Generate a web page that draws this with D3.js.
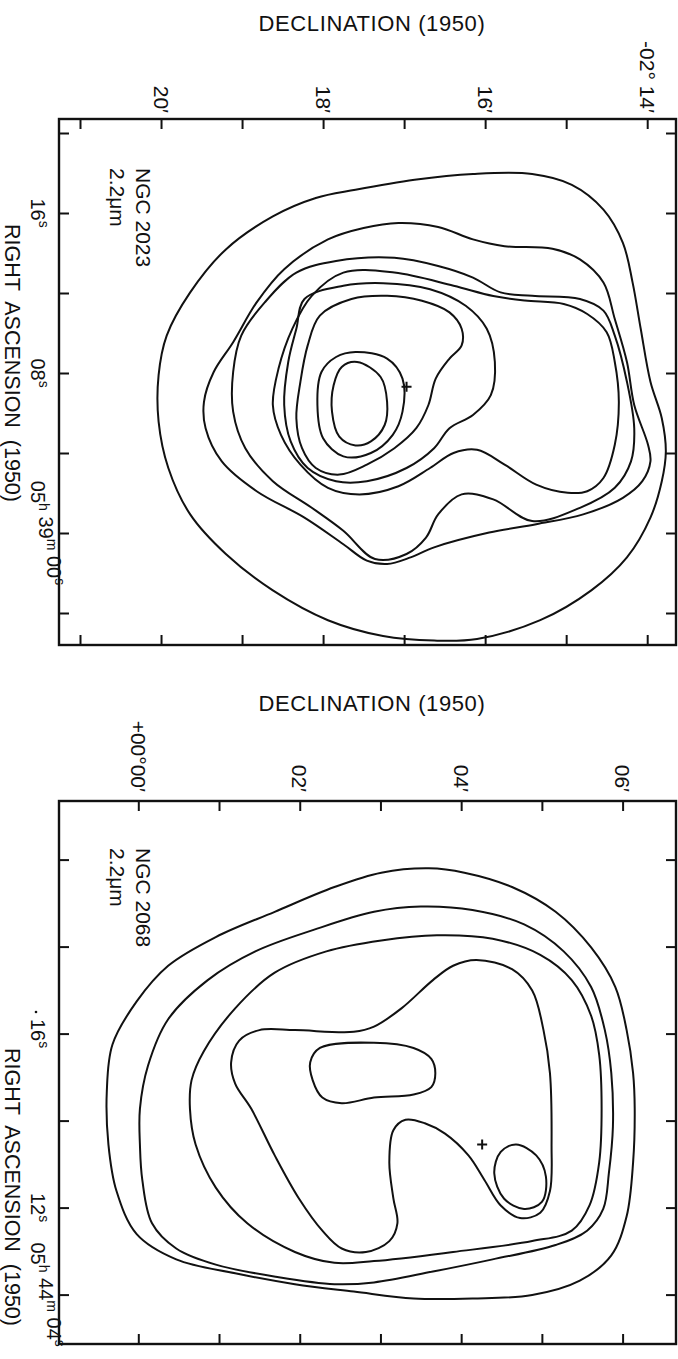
<!DOCTYPE html>
<html>
<head>
<meta charset="utf-8">
<script src="https://cdn.jsdelivr.net/npm/d3@7"></script>
<style>
  html, body { margin: 0; padding: 0; background: #fff; }
  svg { display: block; }
  text { font-family: "Liberation Sans", Arial, sans-serif; fill: #111; white-space: pre; }
</style>
</head>
<body>
<svg id="fig" width="678" height="1359"></svg>
<script>
// ---------- NGC 2023 (declination in arcmin of -02°, RA in seconds of 05h39m) ----------
const decTicks2023 = [21, 20, 19, 18, 17, 16, 15, 14];
const decLabels2023 = [[20, "20′"], [18, "18′"], [16, "16′"], [14, "-02° 14′"]];
const raTicks2023 = [20, 16, 12, 8, 4, 0, -4];
const raLabels2023 = [
  [16, [["16", "s"]]],
  [8, [["08", "s"]]],
  [0, [["05", "h"], [" 39", "m"], [" 00", "s"]]]
];
const n2023Level1 = [[17.60,17.16],[16.87,17.66],[16.15,17.95],[15.42,17.95],[14.93,17.41],[14.54,16.17],[14.30,14.51],[14.18,12.52],[14.08,10.21],[13.96,7.56],[13.82,5.74],[13.77,4.08],[13.82,2.59],[13.96,0.77],[14.25,-1.22],[14.69,-2.87],[15.32,-4.36],[16.10,-5.30],[16.63,-5.38],[17.26,-5.15],[17.94,-4.36],[18.62,-2.87],[19.20,-1.05],[19.64,0.93],[19.91,3.25],[20.03,5.57],[20.03,7.89],[19.93,9.87],[19.64,12.03],[19.20,14.18],[18.62,15.83],[18.09,16.75]];
const n2023Level2 = [[17.50,15.25],[17.07,15.50],[16.58,15.30],[16.15,14.68],[15.76,14.34],[15.17,14.21],[14.83,13.68],[14.54,12.52],[14.40,10.70],[14.25,8.55],[14.16,6.40],[13.99,4.41],[13.96,3.58],[14.06,2.59],[14.30,1.76],[14.79,0.93],[15.37,0.44],[15.95,0.02],[16.63,-0.72],[16.92,-1.22],[17.21,-1.55],[17.46,-1.38],[17.75,-0.56],[18.23,0.77],[18.82,2.09],[19.25,3.58],[19.45,5.24],[19.47,6.56],[19.35,8.05],[19.11,9.54],[18.82,11.53],[18.48,13.19],[17.94,14.68]];
const n2023Level3 = [[17.84,13.60],[17.12,13.76],[16.58,13.35],[16.15,12.77],[15.81,12.03],[15.42,11.86],[14.83,11.70],[14.54,11.12],[14.40,9.87],[14.25,7.56],[14.16,5.24],[14.20,3.58],[14.40,2.26],[14.83,1.26],[15.42,0.60],[15.90,1.68],[16.29,1.93],[16.58,0.93],[16.73,-0.23],[16.97,-1.05],[17.36,-1.30],[17.75,0.11],[18.14,1.26],[18.62,2.59],[18.96,4.24],[19.11,6.07],[19.11,8.05],[19.01,9.87],[18.72,11.53],[18.33,13.02]];
const n2023Level4 = [[17.75,13.02],[17.12,13.02],[16.39,12.36],[15.90,11.85],[15.51,11.62],[15.03,11.45],[14.74,10.95],[14.50,10.04],[14.40,8.55],[14.35,6.56],[14.40,4.41],[14.54,2.75],[14.74,2.09],[14.98,2.01],[15.37,2.42],[15.76,3.42],[16.10,4.16],[16.39,4.00],[16.68,3.25],[17.07,2.34],[17.55,1.93],[17.94,2.26],[18.28,3.42],[18.52,4.91],[18.62,6.40],[18.55,8.22],[18.38,10.21],[18.14,11.86]];
const n2023Level5 = [[18.23,11.70],[17.75,12.36],[17.26,12.49],[16.68,12.19],[16.24,11.36],[15.98,10.21],[15.88,8.55],[15.93,6.89],[16.15,5.90],[16.44,5.24],[16.63,4.24],[16.97,3.25],[17.46,2.59],[17.84,2.59],[18.19,3.25],[18.40,4.58],[18.48,6.40],[18.43,8.55],[18.33,10.21]];
const n2023Level6 = [[18.04,10.87],[17.65,11.70],[17.21,11.86],[16.78,11.61],[16.44,11.03],[16.29,10.21],[16.29,9.38],[16.44,8.72],[16.61,7.72],[16.70,6.40],[16.85,5.24],[17.12,4.24],[17.46,3.42],[17.80,2.92],[18.09,3.25],[18.26,4.24],[18.33,5.74],[18.28,7.56],[18.19,9.38]];
const n2023Level7 = [[17.60,9.05],[17.21,8.72],[17.02,7.72],[17.02,6.07],[17.14,4.91],[17.41,4.00],[17.75,3.83],[18.00,4.74],[18.07,6.40],[18.02,8.05],[17.84,8.80]];
const n2023Level8 = [[17.58,8.55],[17.29,7.80],[17.21,6.56],[17.24,5.40],[17.41,4.58],[17.60,4.38],[17.80,4.82],[17.89,6.07],[17.87,7.39],[17.77,8.30]];
const star2023 = [16.97, 7.31];

// ---------- NGC 2068 (declination in arcmin of +00°, RA in seconds of 05h44m) ----------
const decTicks2068 = [0, 1, 2, 3, 4, 5, 6];
const decLabels2068 = [[0, "+00°00′"], [2, "02′"], [4, "04′"], [6, "06′"]];
const raTicks2068 = [20, 18, 16, 14, 12, 10];
const raLabels2068 = [
  [16, [["16", "s"]]],
  [12, [["12", "s"]]],
  [10, [["05", "h"], [" 44", "m"], [" 04", "s"]]]
];
const n2068Level1 = [[3.60,19.80],[4.04,19.70],[4.63,19.37],[5.17,18.80],[5.61,17.98],[5.91,17.07],[6.05,16.08],[6.13,15.09],[6.15,14.27],[6.13,13.04],[6.05,11.80],[5.86,10.90],[5.47,10.32],[4.88,9.99],[4.14,9.91],[3.41,9.91],[2.67,10.07],[1.94,10.24],[1.20,10.49],[0.47,10.81],[-0.02,11.39],[-0.27,12.38],[-0.37,13.45],[-0.39,14.68],[-0.32,15.75],[-0.02,16.74],[0.37,17.56],[0.96,18.22],[1.69,18.80],[2.43,19.37],[3.01,19.70]];
const n2068Level2 = [[3.50,18.92],[4.14,18.84],[4.78,18.51],[5.27,17.89],[5.61,17.07],[5.78,16.08],[5.86,15.09],[5.88,13.86],[5.83,12.79],[5.76,11.97],[5.56,11.47],[5.17,11.14],[4.39,10.81],[3.65,10.53],[2.92,10.28],[2.43,10.24],[1.74,10.40],[0.96,10.69],[0.47,11.06],[0.17,11.64],[0.05,12.63],[0.02,13.45],[0.02,14.27],[0.12,15.26],[0.37,16.33],[0.86,17.23],[1.45,17.89],[2.18,18.39],[2.92,18.80]];
const n2068Level3 = [[3.70,18.26],[4.39,18.18],[4.98,17.81],[5.37,17.23],[5.61,16.41],[5.71,15.51],[5.74,14.27],[5.71,13.04],[5.59,12.05],[5.37,11.47],[4.88,11.23],[3.90,10.98],[2.92,10.77],[2.43,10.73],[1.94,10.98],[1.35,11.64],[0.96,12.46],[0.71,13.45],[0.64,14.27],[0.66,14.93],[0.81,15.59],[1.20,16.58],[1.69,17.40],[2.33,17.89],[3.01,18.14]];
const n2068Level4 = [[4.19,17.69],[4.63,17.48],[4.88,16.99],[5.02,16.08],[5.10,15.09],[5.12,13.45],[5.10,12.38],[4.98,11.88],[4.73,11.76],[4.49,12.05],[4.29,12.63],[4.09,13.20],[3.80,13.70],[3.55,13.94],[3.31,14.02],[3.16,13.78],[3.11,13.04],[3.16,12.21],[3.21,11.64],[3.11,11.23],[2.82,10.98],[2.52,11.06],[2.28,11.47],[1.99,12.21],[1.69,13.20],[1.40,14.27],[1.20,14.85],[1.15,15.34],[1.25,15.84],[1.50,16.08],[1.94,16.08],[2.67,16.04],[2.92,16.16],[3.26,16.58],[3.65,17.23],[3.90,17.56]];
const n2068Level5 = [[2.25,15.67],[2.92,15.79],[3.41,15.67],[3.63,15.42],[3.68,15.09],[3.63,14.77],[3.41,14.60],[2.92,14.53],[2.52,14.40],[2.28,14.53],[2.16,14.93],[2.13,15.34]];
const n2068Level6 = [[4.68,13.45],[4.93,13.20],[5.05,12.71],[5.00,12.13],[4.78,11.97],[4.53,12.21],[4.41,12.79],[4.49,13.28]];
const star2068 = [4.26, 13.45];

const svg = d3.select("#fig");
const ink = "#111";

function drawRotated(g, x, y, anchor, parts, size, supSize, supShift, spacing) {
  const t = g.append("text")
    .attr("transform", `translate(${x},${y}) rotate(90)`)
    .attr("text-anchor", anchor)
    .attr("font-size", size)
    .attr("letter-spacing", spacing || 0);
  parts.forEach(([main, sup]) => {
    t.append("tspan").text(main);
    if (sup) {
      t.append("tspan").attr("font-size", supSize).attr("dy", -supShift).text(sup);
      t.append("tspan").attr("dy", supShift).text("");
    }
  });
  return t;
}

function drawPanel(p) {
  const g = svg.append("g");
  const x = d3.scaleLinear().domain(p.decDomain).range(p.decRange);
  const y = d3.scaleLinear().domain(p.raDomain).range(p.raRange);
  const f = p.frame;

  // title along the declination edge
  g.append("text").attr("x", 372).attr("y", p.titleY)
    .attr("text-anchor", "middle").attr("font-size", 22)
    .attr("letter-spacing", 0.6).text("DECLINATION (1950)");

  // frame
  g.append("rect").attr("x", f.x0).attr("y", f.y0)
    .attr("width", f.x1 - f.x0).attr("height", f.y1 - f.y0)
    .attr("fill", "none").attr("stroke", ink).attr("stroke-width", 2.4);

  // inward ticks on all four sides
  const tickLen = 10;
  const axes = [
    [d3.axisTop(x).tickValues(p.decTicks), `translate(0,${f.y0})`],
    [d3.axisBottom(x).tickValues(p.decTicks), `translate(0,${f.y1})`],
    [d3.axisLeft(y).tickValues(p.raTicks), `translate(${f.x0},0)`],
    [d3.axisRight(y).tickValues(p.raTicks), `translate(${f.x1},0)`]
  ];
  axes.forEach(([ax, tr]) => {
    const a = g.append("g").attr("transform", tr)
      .call(ax.tickSize(-tickLen).tickFormat(""));
    a.select(".domain").remove();
    a.selectAll("line").attr("stroke", ink).attr("stroke-width", 2);
  });

  // declination tick labels (rotated, ending just above the frame)
  p.decLabels.forEach(([v, s]) => {
    drawRotated(g, x(v) - 7.5, p.decLabelEnd, "end", [[s]], 21);
  });

  // right ascension tick labels
  p.raLabels.forEach(([v, parts]) => {
    drawRotated(g, 31, y(v), "middle", parts, 20, 14, 8);
  });

  // right ascension title
  drawRotated(g, 5, p.raTitleY, "start", [["RIGHT  ASCENSION  (1950)"]], 21.5);

  // object name and wavelength
  drawRotated(g, 136, p.nameY, "start", [[p.name]], 21);
  drawRotated(g, 110, p.nameY, "start", [["2.2μm"]], 21);

  // isophotes
  const line = d3.line()
    .x(d => x(d[0])).y(d => y(d[1]))
    .curve(d3.curveCatmullRomClosed.alpha(0.5));
  g.selectAll("path.iso").data(p.levels).join("path")
    .attr("class", "iso")
    .attr("d", line)
    .attr("fill", "none").attr("stroke", ink)
    .attr("stroke-width", 2).attr("stroke-linejoin", "round");

  // source position
  const sx = x(p.star[0]), sy = y(p.star[1]);
  g.append("path")
    .attr("d", `M${sx - 5},${sy}H${sx + 5}M${sx},${sy - 5}V${sy + 5}`)
    .attr("stroke", ink).attr("stroke-width", 2);
  return g;
}

drawPanel({
  decDomain: [21, 14], decRange: [80, 647.2],
  raDomain: [20, -4], raRange: [133, 613],
  frame: { x0: 59, y0: 119, x1: 676, y1: 645 },
  decTicks: decTicks2023, decLabels: decLabels2023,
  raTicks: raTicks2023, raLabels: raLabels2023,
  titleY: 31, decLabelEnd: 113, raTitleY: 224, nameY: 168,
  name: "NGC 2023",
  levels: [n2023Level1, n2023Level2, n2023Level3, n2023Level4, n2023Level5, n2023Level6, n2023Level7, n2023Level8],
  star: star2023
});

const lower = drawPanel({
  decDomain: [0, 6], decRange: [138.3, 622.6],
  raDomain: [20, 10], raRange: [859.6, 1294.6],
  frame: { x0: 59, y0: 801, x1: 676, y1: 1344 },
  decTicks: decTicks2068, decLabels: decLabels2068,
  raTicks: raTicks2068, raLabels: raLabels2068,
  titleY: 711, decLabelEnd: 792, raTitleY: 1048, nameY: 848,
  name: "NGC 2068",
  levels: [n2068Level1, n2068Level2, n2068Level3, n2068Level4, n2068Level5, n2068Level6],
  star: star2068
});
lower.append("circle").attr("cx", 36).attr("cy", 1012).attr("r", 1.3).attr("fill", ink);
</script>
</body>
</html>
